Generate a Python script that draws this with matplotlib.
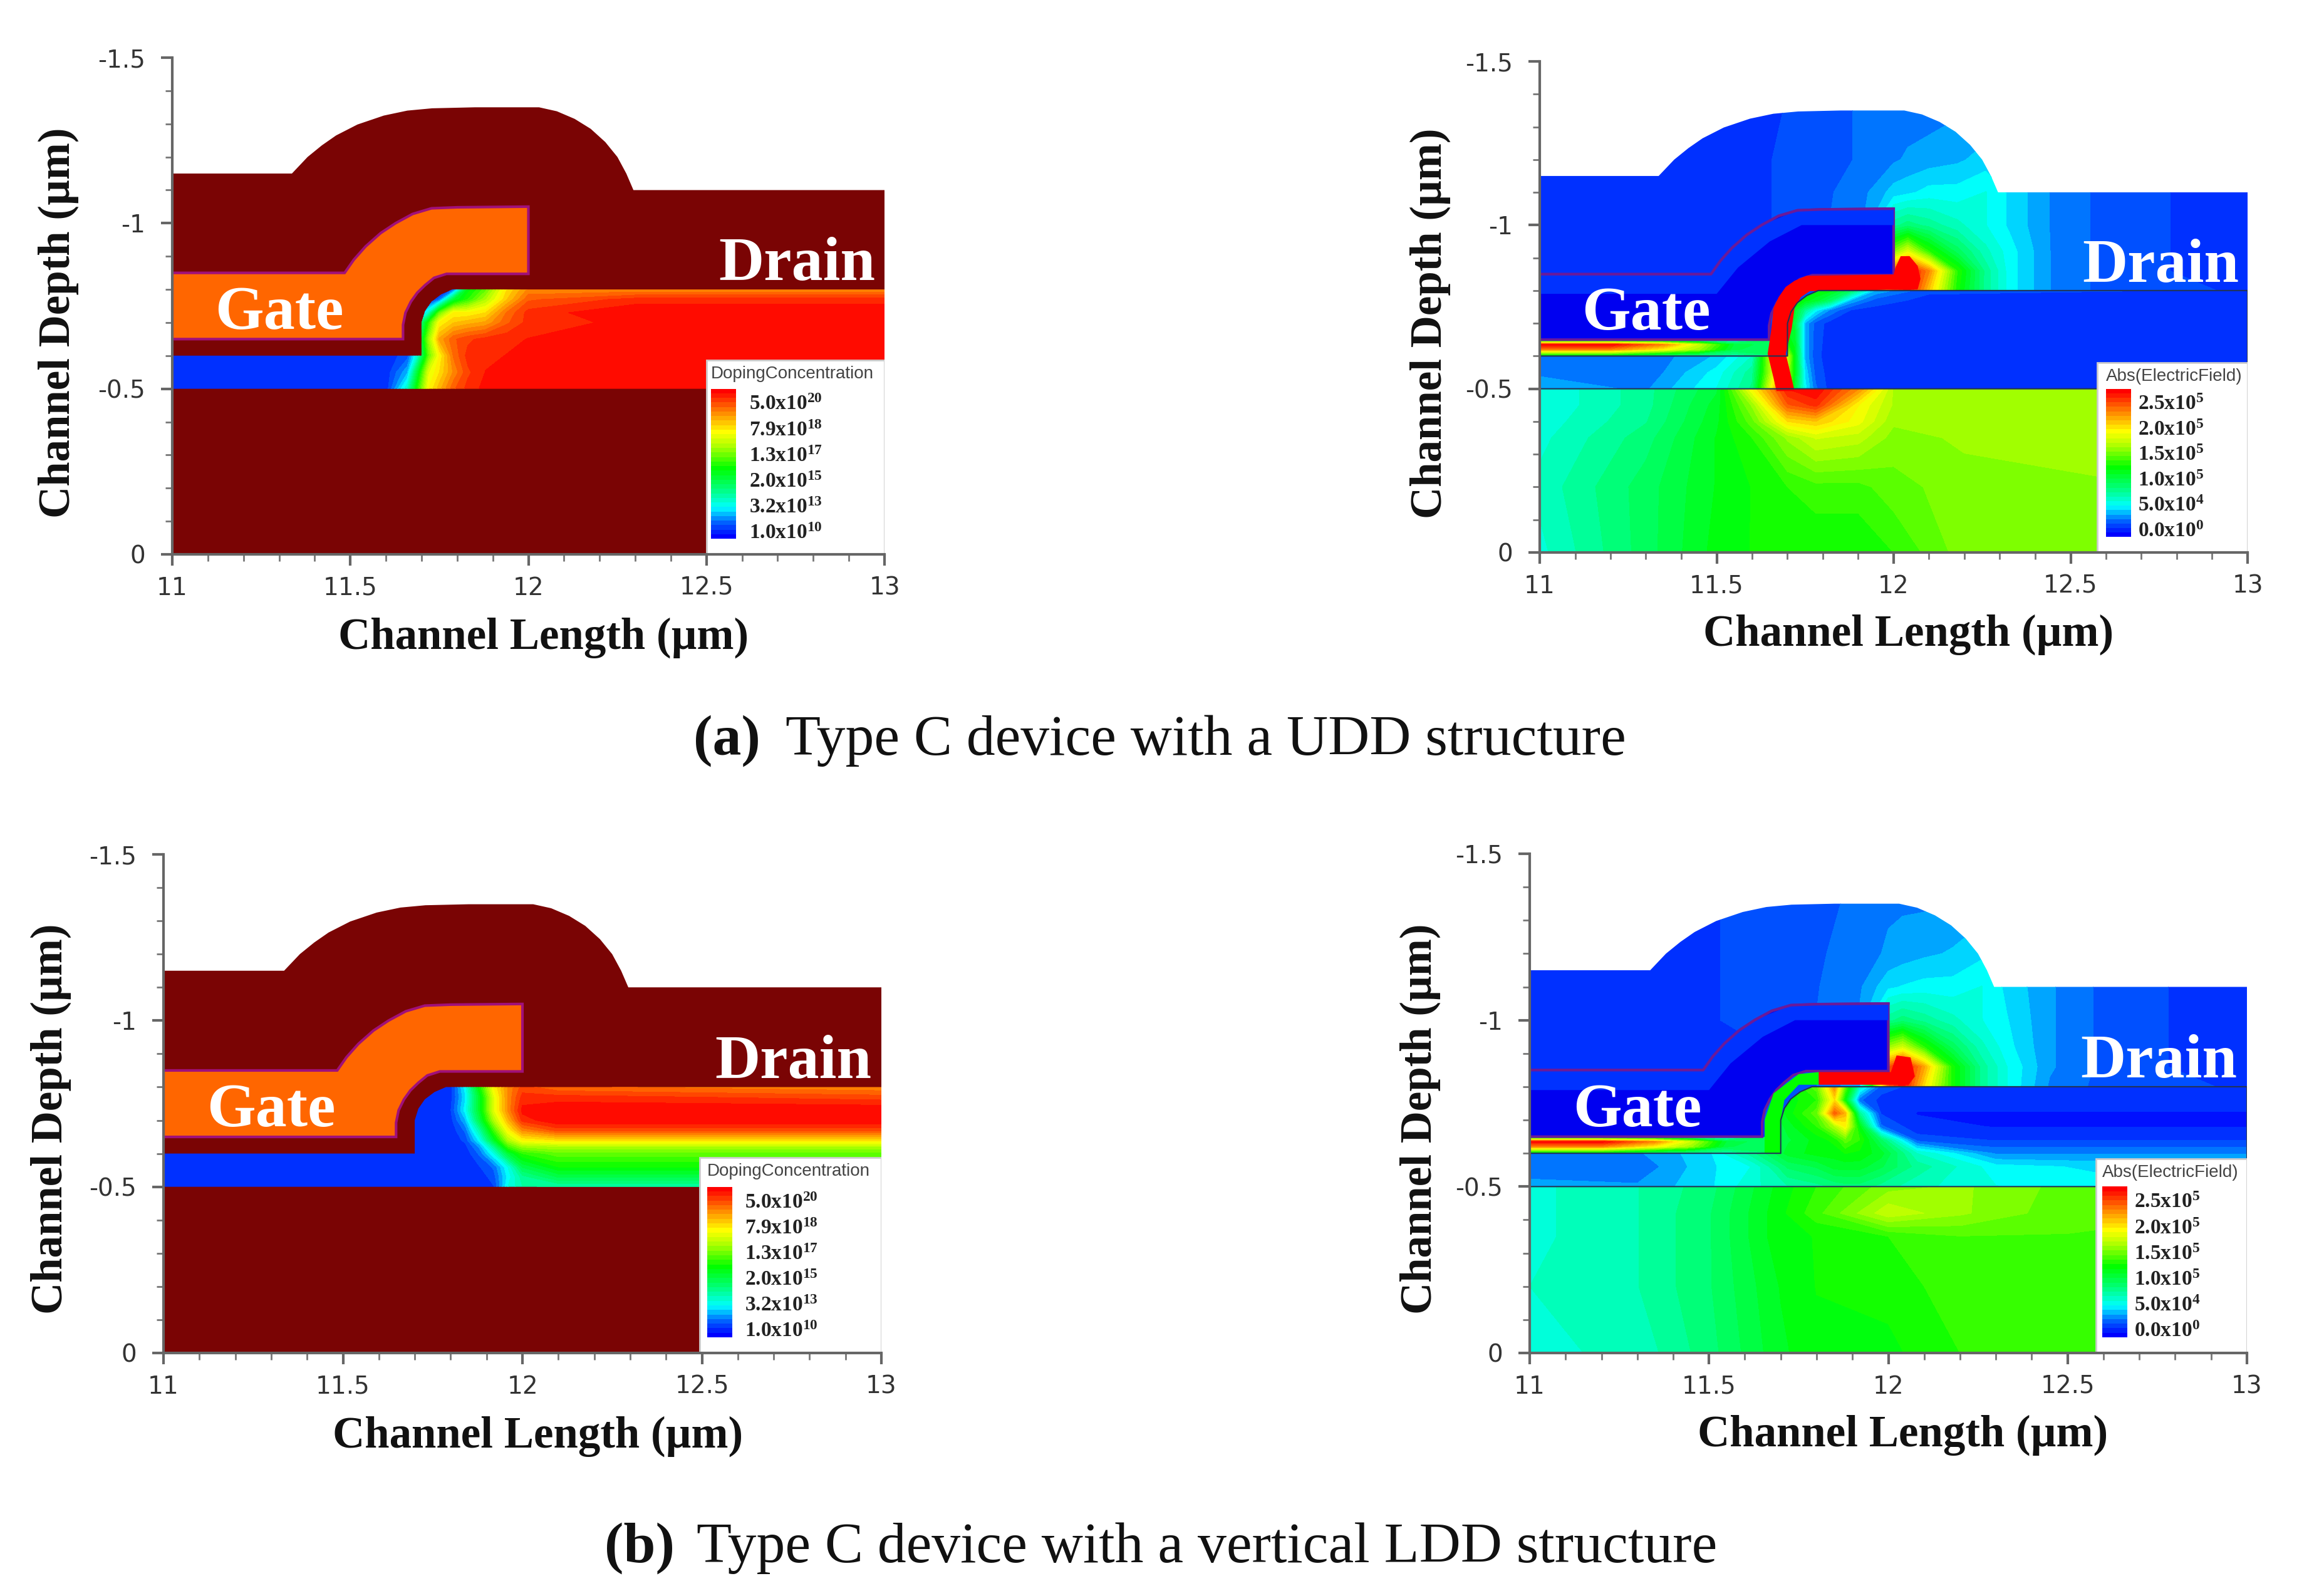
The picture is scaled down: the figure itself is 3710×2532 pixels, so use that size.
import numpy as np
import matplotlib
matplotlib.use("Agg")
import matplotlib.pyplot as plt
from matplotlib.colors import LinearSegmentedColormap
from matplotlib.patches import Polygon, Rectangle

plt.rcParams['mathtext.fontset'] = 'custom'
plt.rcParams['mathtext.bf'] = 'Liberation Serif:bold'
plt.rcParams['mathtext.rm'] = 'Liberation Serif:bold'

W, H = 3710, 2532

# device geometry (channel length, channel depth)
outline_x = [11, 11, 11.336, 11.38, 11.42, 11.46, 11.52, 11.594, 11.66, 11.73, 11.85, 12.03, 12.08, 12.13, 12.175, 12.216, 12.25, 12.275, 12.295, 13, 13]
outline_y = [0, -1.15, -1.15, -1.20, -1.235, -1.265, -1.298, -1.325, -1.34, -1.347, -1.35, -1.35, -1.338, -1.315, -1.285, -1.245, -1.2, -1.15, -1.10, -1.10, 0]
gate_x = [11, 11.484, 11.51, 11.543, 11.585, 11.627, 11.675, 11.728, 11.8, 12.0, 12.0, 11.77, 11.735, 11.71, 11.688, 11.67, 11.655, 11.648, 11.648, 11]
gate_y = [-0.85, -0.85, -0.89, -0.93, -0.97, -1.0, -1.028, -1.045, -1.048, -1.05, -0.847, -0.847, -0.835, -0.813, -0.79, -0.763, -0.73, -0.693, -0.65, -0.65]
gate_band_x = [11, 11.484, 11.543, 11.627, 11.728, 12.0, 12.0, 11.74, 11.65, 11.56, 11.5, 11]
gate_band_y = [-0.85, -0.85, -0.93, -1.0, -1.045, -1.05, -1.0, -1.0, -0.95, -0.87, -0.79, -0.79]
channel_x = [11, 11.70, 11.70, 11.71, 11.728, 11.755, 11.787, 13, 13, 11]
channel_y = [-0.6, -0.6, -0.70, -0.735, -0.763, -0.785, -0.8, -0.8, -0.5, -0.5]
substrate_x = [11, 13, 13, 11]
substrate_y = [-0.5, -0.5, 0, 0]
oxide_x = [11, 11.66, 11.66, 11]
oxide_y = [-0.65, -0.65, -0.6, -0.6]

# doping, panel (a): rows are depths, columns are lengths
dop_a_x = [11, 11.6, 11.66, 11.69, 11.72, 11.75, 11.79, 11.83, 11.88, 11.94, 12.0, 12.3, 13]
dop_a_y = [-0.8, -0.77, -0.73, -0.7, -0.65, -0.6, -0.55, -0.5]
dop_a = [[.04, .04, .04, .04, .04, .04, .1, .45, .55, .75, .85, .85, .85],
         [.04, .04, .04, .04, .04, .1, .4, .5, .62, .78, .9, .95, .95],
         [.04, .04, .04, .1, .25, .55, .72, .72, .75, .88, .95, 1, 1],
         [.04, .04, .1, .25, .5, .72, .78, .8, .82, .9, .95, .98, 1],
         [.04, .04, .1, .3, .6, .82, .9, .93, .95, .96, .97, .97, .98],
         [.04, .04, .08, .25, .55, .72, .88, .95, .96, .97, .98, 1, 1],
         [.04, .04, .15, .42, .68, .75, .85, .93, .97, .98, .98, .98, .98],
         [.04, .04, .25, .5, .72, .8, .9, .95, .98, .97, .97, .97, .97]]

# doping, panel (b)
dop_b_x = [11, 11.7, 11.8, 11.84, 11.88, 11.92, 11.96, 12.0, 12.1, 13]
dop_b_y = [-0.8, -0.77, -0.73, -0.7, -0.67, -0.64, -0.62, -0.6, -0.56, -0.53, -0.5]
dop_b = [[.04, .04, .05, .2, .47, .72, .85, .92, .88, .85],
         [.04, .04, .05, .18, .42, .68, .85, .95, .95, .92],
         [.04, .04, .06, .2, .42, .68, .85, .98, 1, 1],
         [.04, .04, .05, .15, .38, .62, .8, .95, 1, 1],
         [.04, .04, .04, .1, .28, .52, .72, .85, .92, .92],
         [.04, .04, .04, .07, .2, .42, .62, .72, .75, .75],
         [.04, .04, .04, .05, .13, .3, .52, .6, .62, .62],
         [.04, .04, .04, .04, .1, .22, .4, .5, .55, .55],
         [.04, .04, .04, .04, .06, .1, .22, .38, .47, .47],
         [.04, .04, .04, .04, .04, .08, .2, .3, .38, .38],
         [.04, .04, .04, .04, .04, .06, .22, .28, .28, .28]]

# electric field, panel (a)
ox_a_x = [11, 11.5, 11.75, 11.92, 12.0, 12.04, 12.1, 12.18, 12.26, 12.33, 12.45, 12.65, 13]
ox_a_y = [-1.35, -1.2, -1.1, -1.0, -0.92, -0.86, -0.8, -0.6]
ox_a = [[.04, .04, .07, .1, .11, .11, .11, .12, .13, .13, .12, .08, .06],
        [.04, .05, .07, .1, .12, .13, .14, .15, .17, .15, .11, .07, .05],
        [.04, .05, .07, .12, .17, .18, .2, .2, .22, .18, .12, .07, .05],
        [.04, .05, .07, .13, .3, .33, .3, .26, .22, .18, .12, .07, .05],
        [.04, .05, .07, .15, .58, .68, .5, .36, .26, .2, .12, .07, .05],
        [.04, .05, .07, .15, .9, 1, .85, .5, .3, .2, .12, .07, .05],
        [.05, .05, .07, .15, .9, 1, .78, .48, .3, .2, .12, .07, .06],
        [.05, .05, .07, .15, .5, .5, .4, .3, .2, .15, .1, .06, .05]]
ch_a_x = [11, 11.3, 11.5, 11.6, 11.68, 11.72, 11.75, 11.78, 11.82, 11.88, 11.95, 12.1, 13]
ch_a_y = [-0.8, -0.77, -0.74, -0.7, -0.6, -0.55, -0.5]
ch_a = [[.1, .1, .1, .1, .5, .5, .5, .47, .45, .35, .15, .07, .06],
        [.1, .1, .1, .1, .5, .5, .45, .42, .35, .15, .08, .05, .05],
        [.1, .1, .1, .1, .45, .42, .3, .2, .12, .06, .05, .05, .05],
        [.1, .1, .1, .1, .45, .4, .15, .08, .05, .05, .05, .05, .05],
        [.1, .1, .16, .25, .85, .45, .15, .07, .05, .05, .05, .05, .05],
        [.12, .1, .2, .3, .8, .45, .18, .08, .05, .05, .05, .05, .05],
        [.14, .12, .22, .32, .9, .4, .2, .1, .05, .05, .05, .05, .05]]
sub_a_x = [11, 11.3, 11.5, 11.6, 11.7, 11.78, 11.9, 12.0, 12.2, 13]
sub_a_y = [-0.5, -0.45, -0.4, -0.35, -0.2, 0]
sub_a = [[.22, .3, .4, .72, .97, 1, .85, .62, .6, .6],
         [.22, .3, .42, .6, .9, .95, .72, .62, .6, .6],
         [.23, .31, .43, .55, .75, .78, .7, .6, .6, .6],
         [.24, .33, .44, .5, .6, .66, .64, .58, .6, .6],
         [.26, .36, .44, .47, .5, .52, .52, .55, .58, .6],
         [.24, .36, .45, .47, .47, .47, .47, .5, .58, .6]]
stripe_a_x = [12.0, 11.754, 11.72, 11.695, 11.675, 11.661, 11.653, 11.644, 11.661, 11.669, 11.72, 11.712, 11.695, 11.712, 11.72, 11.738, 11.763, 12.068, 12.076, 12.068, 12.045, 12.02, 12.005]
stripe_a_y = [-0.849, -0.845, -0.83, -0.811, -0.78, -0.747, -0.671, -0.607, -0.531, -0.493, -0.493, -0.531, -0.607, -0.684, -0.747, -0.78, -0.798, -0.804, -0.836, -0.875, -0.905, -0.905, -0.87]

# electric field, panel (b)
ox_b = [[.04, .06, .08, .1, .12, .12, .12, .13, .14, .14, .13, .09, .06],
        [.04, .06, .08, .11, .13, .14, .15, .16, .18, .15, .11, .07, .05],
        [.04, .06, .08, .12, .18, .19, .2, .2, .22, .18, .13, .07, .05],
        [.04, .06, .08, .13, .3, .33, .3, .26, .22, .19, .13, .07, .05],
        [.04, .05, .07, .15, .6, .66, .5, .36, .26, .2, .13, .07, .05],
        [.04, .05, .07, .15, .9, 1, .82, .48, .3, .22, .13, .07, .05],
        [.05, .05, .07, .15, .9, 1, .75, .48, .3, .22, .12, .07, .06],
        [.05, .05, .07, .15, .5, .5, .4, .3, .2, .15, .1, .06, .05]]
ch_b_x = [11, 11.3, 11.5, 11.62, 11.72, 11.8, 11.85, 11.88, 11.92, 11.98, 12.08, 12.3, 12.6, 13]
ch_b_y = [-0.8, -0.76, -0.72, -0.68, -0.64, -0.6, -0.56, -0.5]
ch_b = [[.12, .12, .12, .3, .45, .55, .85, .55, .25, .08, .05, .05, .05, .05],
        [.12, .12, .12, .3, .45, .5, .75, .45, .1, .05, .04, .04, .04, .04],
        [.12, .12, .12, .3, .45, .55, .9, .8, .3, .06, .03, .03, .03, .03],
        [.12, .12, .12, .3, .42, .5, .62, .72, .45, .1, .04, .03, .03, .03],
        [.12, .12, .14, .3, .4, .45, .48, .55, .5, .35, .08, .06, .06, .06],
        [.12, .12, .18, .3, .42, .45, .45, .47, .46, .42, .25, .12, .12, .12],
        [.1, .1, .18, .22, .35, .38, .42, .42, .42, .38, .3, .2, .18, .18],
        [.14, .13, .18, .24, .28, .3, .32, .33, .33, .3, .26, .22, .2, .2]]
sub_b_x = [11, 11.3, 11.5, 11.7, 11.8, 12.0, 12.2, 12.5, 13]
sub_b_y = [-0.5, -0.42, -0.35, -0.2, 0]
sub_b = [[.24, .28, .33, .45, .5, .58, .6, .55, .52],
         [.24, .28, .34, .46, .52, .65, .6, .54, .53],
         [.24, .28, .34, .46, .47, .5, .53, .53, .53],
         [.25, .28, .34, .44, .47, .48, .52, .53, .53],
         [.24, .26, .33, .43, .46, .46, .5, .52, .53]]
stripe_b_x = [11.806, 12.007, 12.023, 12.062, 12.074, 12.057, 11.806]
stripe_b_y = [-0.844, -0.844, -0.894, -0.888, -0.831, -0.806, -0.806]
band_b_x = [11.806, 11.75, 11.68, 11.655, 11.655, 11.70, 11.70, 11.71, 11.75, 11.806]
band_b_y = [-0.844, -0.838, -0.78, -0.70, -0.6, -0.6, -0.70, -0.76, -0.806, -0.806]

# gate oxide left of the channel, both panels
gox_x = [11, 11.2, 11.35, 11.45, 11.55, 11.66]
gox_y = [-0.65, -0.635, -0.62, -0.605, -0.6]
gox = [[.3, .3, .3, .25, .2, .35],
       [1, 1, .85, .65, .4, .35],
       [.85, .85, .72, .6, .38, .35],
       [.5, .5, .4, .35, .3, .35],
       [.4, .4, .35, .3, .3, .35]]

# axes in image pixels: left, right, y(-1.5), y(0)
boxes = [(275, 1412, 92, 885), (2458, 3588, 98, 882), (261, 1407, 1364, 2160), (2442, 3587, 1363, 2160)]
legend_left = [12.5, 12.576, 12.494, 12.579]
legend_top = [-0.587, -0.58, -0.588, -0.584]
bar_left = [12.513, 12.60, 12.515, 12.597]
label_left = [12.62, 12.69, 12.62, 12.685]
legend_title = ['DopingConcentration', 'Abs(ElectricField)', 'DopingConcentration', 'Abs(ElectricField)']
dop_labels = [r'$\mathbf{5.0x10^{20}}$', r'$\mathbf{7.9x10^{18}}$', r'$\mathbf{1.3x10^{17}}$',
              r'$\mathbf{2.0x10^{15}}$', r'$\mathbf{3.2x10^{13}}$', r'$\mathbf{1.0x10^{10}}$']
fld_labels = [r'$\mathbf{2.5x10^{5}}$', r'$\mathbf{2.0x10^{5}}$', r'$\mathbf{1.5x10^{5}}$',
              r'$\mathbf{1.0x10^{5}}$', r'$\mathbf{5.0x10^{4}}$', r'$\mathbf{0.0x10^{0}}$']
ylabel_pos = [(93, 515), (2283, 516), (81, 1786), (2267, 1786)]
xlabel_pos = [(868, 1018), (3047, 1013), (859, 2293), (3038, 2291)]

cmap = LinearSegmentedColormap.from_list('tcad', [
    (0, (0, 0, 1)), (.1, (0, .4, 1)), (.2, (0, 1, 1)), (.33, (0, 1, .47)), (.47, (0, 1, 0)),
    (.62, (.67, 1, 0)), (.72, (1, 1, 0)), (.85, (1, .55, 0)), (1, (1, 0, 0))])
levels = np.linspace(0, 1, 33)
maroon = '#7a0404'


def field(ax, xs, ys, vals, px, py, z):
    clip = Polygon(np.column_stack([px, py]), transform=ax.transData)
    cs = ax.contourf(xs, ys, np.array(vals), levels=levels, cmap=cmap, extend='both', zorder=z)
    cs.set_clip_path(clip)


def frame(ax, i):
    ax.set_xlim(11, 13)
    ax.set_ylim(0, -1.5)
    for s in ['top', 'right']:
        ax.spines[s].set_visible(False)
    for s in ['left', 'bottom']:
        ax.spines[s].set_color('#666666')
        ax.spines[s].set_linewidth(3)
        ax.spines[s].set_zorder(20)
    ax.set_xticks([11, 11.5, 12, 12.5, 13])
    ax.set_xticklabels(['11', '11.5', '12', '12.5', '13'])
    ax.set_yticks([-1.5, -1, -0.5, 0])
    ax.set_yticklabels(['-1.5', '-1', '-0.5', '0'])
    ax.set_xticks(np.arange(11, 13.01, 0.1), minor=True)
    ax.set_yticks(np.arange(-1.5, 0.01, 0.1), minor=True)
    ax.tick_params(which='major', direction='out', length=13, width=3, color='#666666',
                   labelsize=28, labelcolor='#333333', pad=12)
    ax.tick_params(axis='y', which='major', pad=18)
    ax.tick_params(which='minor', direction='out', length=8, width=2, color='#777777')
    fig.text(ylabel_pos[i][0] / W, 1 - ylabel_pos[i][1] / H, 'Channel Depth (µm)', rotation=90,
             family='Liberation Serif', weight='bold', size=51, color='#111111', ha='center', va='center')
    fig.text(xlabel_pos[i][0] / W, 1 - xlabel_pos[i][1] / H, 'Channel Length (µm)',
             family='Liberation Serif', weight='bold', size=51, color='#111111', ha='center', va='center')
    ax.text(11.3, -0.727, 'Gate', family='Liberation Serif', weight='bold', size=72, color='white',
            ha='center', va='center', zorder=15)
    ax.text(12.755, -0.873, 'Drain', family='Liberation Serif', weight='bold', size=72, color='white',
            ha='center', va='center', zorder=15)


def legend(ax, i, labels):
    ax.add_patch(Rectangle((legend_left[i], legend_top[i]), 13 - legend_left[i], -legend_top[i],
                           fc='white', ec='#cccccc', lw=2, zorder=10))
    bar = np.linspace(0, 1, 33).reshape(-1, 1)
    ax.pcolormesh([bar_left[i], bar_left[i] + 0.07], np.linspace(-0.047, -0.5, 34), bar,
                  cmap=cmap, vmin=0, vmax=1, zorder=11)
    ax.text(bar_left[i], legend_top[i] + 0.042, legend_title[i], family='Liberation Sans', size=20,
            color='#444444', va='center', zorder=12)
    for n, lab in enumerate(labels):
        ax.text(label_left[i], -0.454 + n * 0.0776, lab, size=24, color='#222222', va='center', zorder=12)


fig = plt.figure(figsize=(W / 100, H / 100), dpi=100, facecolor='white')
axes = []
for l, r, t, b in boxes:
    axes.append(fig.add_axes([l / W, 1 - b / H, (r - l) / W, (b - t) / H]))

# doping panels
for i, (dx, dy, dv) in zip([0, 2], [(dop_a_x, dop_a_y, dop_a), (dop_b_x, dop_b_y, dop_b)]):
    ax = axes[i]
    ax.fill(outline_x, outline_y, color=maroon, lw=0, zorder=1)
    ax.add_patch(Polygon(np.column_stack([gate_x, gate_y]), fc='#ff6600', ec='#a0107a', lw=3, zorder=3))
    field(ax, dx, dy, dv, channel_x, channel_y, 2)
    frame(ax, i)
    legend(ax, i, dop_labels)

# field panels
fields = [(1, ox_a, ch_a_x, ch_a_y, ch_a, sub_a_x, sub_a_y, sub_a),
          (3, ox_b, ch_b_x, ch_b_y, ch_b, sub_b_x, sub_b_y, sub_b)]
for i, ox, cx, cy, cv, sx, sy, sv in fields:
    ax = axes[i]
    field(ax, ox_a_x, ox_a_y, ox, outline_x, outline_y, 1)
    field(ax, sx, sy, sv, substrate_x, substrate_y, 2)
    field(ax, cx, cy, cv, channel_x, channel_y, 2)
    field(ax, gox_x, gox_y, gox, oxide_x, oxide_y, 2)
    if i == 1:
        ax.fill(stripe_a_x, stripe_a_y, color=cmap(1.0), lw=0, zorder=4)
    else:
        ax.fill(band_b_x, band_b_y, color=cmap(0.47), lw=0, zorder=4)
        ax.fill(stripe_b_x, stripe_b_y, color=cmap(1.0), lw=0, zorder=4)
    ax.add_patch(Polygon(np.column_stack([gate_x, gate_y]), fc='#0000f0', ec='#6a1a9a', lw=3, zorder=3))
    ax.fill(gate_band_x, gate_band_y, color='#0032ff', lw=0, zorder=3)
    ax.plot(gate_x[:10], gate_y[:10], color='#6a1a9a', lw=3, zorder=3)
    ax.plot(channel_x + channel_x[:1], channel_y + channel_y[:1], color='#223355', lw=1.5, zorder=5)
    frame(ax, i)
    legend(ax, i, fld_labels)

# captions
cap = dict(family='Liberation Serif', size=66, color='#111111', va='center')
fig.text(1107 / W, 1 - 1183 / H, '(a)', weight='bold', **cap)
fig.text(1254 / W, 1 - 1183 / H, 'Type C device with a UDD structure', **cap)
fig.text(965 / W, 1 - 2472 / H, '(b)', weight='bold', **cap)
fig.text(1112 / W, 1 - 2472 / H, 'Type C device with a vertical LDD structure', **cap)

fig.savefig('out.png', dpi=100)
